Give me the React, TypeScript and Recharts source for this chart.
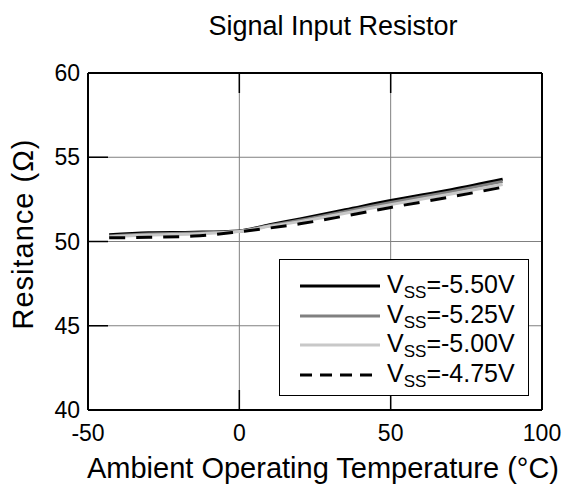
import { LineChart, Line, XAxis, YAxis, CartesianGrid } from "recharts";

const temps = [-43, -30, -15, 0, 10, 20, 35, 50, 70, 87];
const vss550 = [50.4, 50.52, 50.55, 50.63, 51.0, 51.34, 51.88, 52.43, 53.08, 53.7];
const vss525 = [50.33, 50.45, 50.5, 50.61, 50.95, 51.26, 51.78, 52.31, 52.96, 53.56];
const vss500 = [50.28, 50.38, 50.45, 50.59, 50.9, 51.18, 51.68, 52.19, 52.82, 53.38];
const vss475 = [50.22, 50.25, 50.32, 50.58, 50.8, 51.05, 51.52, 52.02, 52.65, 53.22];

const xTicks = [-50, 0, 50, 100];
const yTicks = [40, 45, 50, 55, 60];

const series = [
  { key: "v550", label: "=-5.50V", values: vss550, color: "#000000", dash: undefined },
  { key: "v525", label: "=-5.25V", values: vss525, color: "#808080", dash: undefined },
  { key: "v500", label: "=-5.00V", values: vss500, color: "#c8c8c8", dash: undefined },
  { key: "v475", label: "=-4.75V", values: vss475, color: "#000000", dash: "16 11" },
];

const chartData = temps.map((t, i) => {
  const row: Record<string, number> = { temp: t };
  series.forEach((s) => {
    row[s.key] = s.values[i];
  });
  return row;
});

const font = '"Liberation Sans", Arial, sans-serif';
const blank = () => "";

const App = () => {
  return (
    <div
      style={{
        position: "absolute",
        left: 0,
        top: 0,
        width: 565,
        height: 488,
        background: "#fff",
        fontFamily: font,
      }}
    >
      <LineChart
        width={565}
        height={488}
        data={chartData}
        margin={{ top: 72, right: 22, bottom: 28, left: 0 }}
      >
        <CartesianGrid stroke="#808080" strokeWidth={1} horizontalValues={yTicks} verticalValues={xTicks} />

        <XAxis
          dataKey="temp"
          type="number"
          domain={[-50, 100]}
          ticks={xTicks}
          height={50}
          axisLine={{ stroke: "#000", strokeWidth: 2 }}
          tickLine={{ stroke: "#000", strokeWidth: 1.5 }}
          tickSize={-20}
          tickMargin={35}
          tick={{ fill: "#000", fontSize: 23, fontFamily: font }}
        />
        <XAxis
          xAxisId="top"
          orientation="top"
          dataKey="temp"
          type="number"
          domain={[-50, 100]}
          ticks={xTicks}
          height={1}
          axisLine={{ stroke: "#000", strokeWidth: 2 }}
          tickLine={{ stroke: "#000", strokeWidth: 1.5 }}
          tickSize={-20}
          tickFormatter={blank}
        />
        <YAxis
          type="number"
          domain={[40, 60]}
          ticks={yTicks}
          width={88}
          axisLine={{ stroke: "#000", strokeWidth: 2 }}
          tickLine={{ stroke: "#000", strokeWidth: 1.5 }}
          tickSize={-20}
          tickMargin={28}
          tick={{ fill: "#000", fontSize: 23, fontFamily: font }}
        />
        <YAxis
          yAxisId="right"
          orientation="right"
          type="number"
          domain={[40, 60]}
          ticks={yTicks}
          width={1}
          axisLine={{ stroke: "#000", strokeWidth: 2 }}
          tickLine={{ stroke: "#000", strokeWidth: 1.5 }}
          tickSize={-20}
          tickFormatter={blank}
        />

        {series.map((s) => (
          <Line
            key={s.key}
            type="monotone"
            dataKey={s.key}
            stroke={s.color}
            strokeWidth={3}
            strokeDasharray={s.dash}
            dot={false}
            isAnimationActive={false}
          />
        ))}
      </LineChart>

      <div
        style={{
          position: "absolute",
          left: 33,
          top: 9,
          width: 600,
          textAlign: "center",
          fontSize: 27,
          lineHeight: "34px",
        }}
      >
        Signal Input Resistor
      </div>

      <div
        style={{
          position: "absolute",
          left: 23,
          top: 451,
          width: 600,
          textAlign: "center",
          fontSize: 29,
          lineHeight: "34px",
        }}
      >
        Ambient Operating Temperature (°C)
      </div>

      <div
        style={{
          position: "absolute",
          left: 23,
          top: 234,
          width: 300,
          marginLeft: -150,
          marginTop: -17,
          textAlign: "center",
          fontSize: 29,
          lineHeight: "34px",
          letterSpacing: 1,
          transform: "rotate(-90deg)",
        }}
      >
        Resitance (Ω)
      </div>

      <div
        style={{
          position: "absolute",
          left: 279,
          top: 259,
          width: 250,
          height: 137,
          boxSizing: "border-box",
          border: "1.5px solid #000",
          background: "#fff",
        }}
      >
        {series.map((s, i) => (
          <div
            key={s.key}
            style={{
              position: "absolute",
              left: 20,
              top: 11 + i * 29.5,
              height: 30,
              display: "flex",
              alignItems: "center",
            }}
          >
            <svg width={80} height={4} style={{ display: "block" }}>
              <line
                x1={0}
                y1={2}
                x2={80}
                y2={2}
                stroke={s.color}
                strokeWidth={3}
                strokeDasharray={s.dash ? "12 8" : undefined}
              />
            </svg>
            <span style={{ marginLeft: 7, fontSize: 25, lineHeight: "30px", whiteSpace: "nowrap" }}>
              V
              <span style={{ fontSize: 17, position: "relative", top: 5 }}>SS</span>
              {s.label}
            </span>
          </div>
        ))}
      </div>
    </div>
  );
};

export default App;
